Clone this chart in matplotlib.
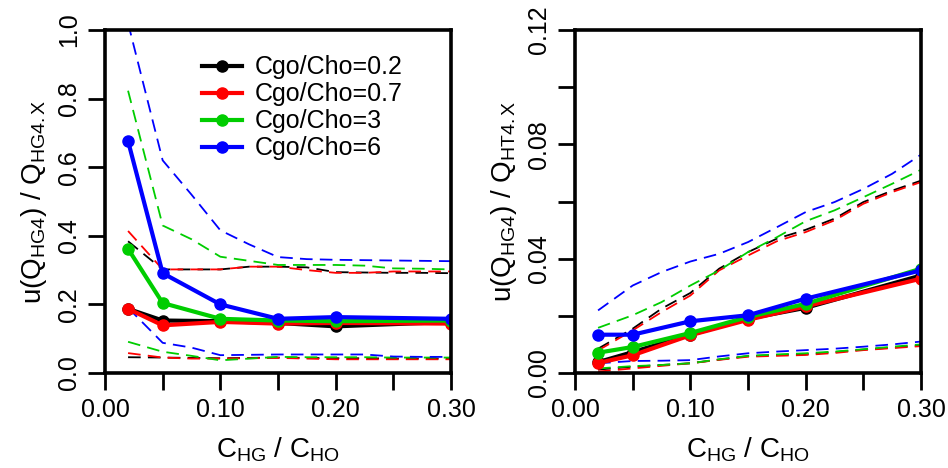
import matplotlib
matplotlib.use("Agg")
import matplotlib.pyplot as plt
from matplotlib.ticker import MultipleLocator, FormatStrFormatter

plt.rcParams['font.family'] = ['Liberation Sans', 'DejaVu Sans']
plt.rcParams['mathtext.fontset'] = 'custom'
plt.rcParams['mathtext.rm'] = 'Liberation Sans'
plt.rcParams['mathtext.it'] = 'Liberation Sans'

# x values (C_HG / C_HO)
ratio = [0.02, 0.05, 0.10, 0.15, 0.20, 0.30]
band_x = [0.02, 0.05, 0.075, 0.10, 0.125, 0.15, 0.175, 0.20, 0.225, 0.25, 0.275, 0.30]

labels = ["Cgo/Cho=0.2", "Cgo/Cho=0.7", "Cgo/Cho=3", "Cgo/Cho=6"]
colors = ["black", "red", "#00CD00", "blue"]

# left panel: u(Q_HG4)/Q_HG4.X
hg_mid_02 = [0.187, 0.153, 0.151, 0.146, 0.136, 0.149]
hg_mid_07 = [0.187, 0.139, 0.149, 0.144, 0.146, 0.144]
hg_mid_3 = [0.362, 0.204, 0.158, 0.153, 0.151, 0.153]
hg_mid_6 = [0.676, 0.291, 0.200, 0.158, 0.163, 0.158]

hg_hi_02 = [0.384, 0.302, 0.302, 0.302, 0.310, 0.310, 0.308, 0.294, 0.293, 0.292, 0.292, 0.291]
hg_hi_07 = [0.414, 0.302, 0.302, 0.302, 0.310, 0.310, 0.300, 0.292, 0.292, 0.296, 0.296, 0.296]
hg_hi_3 = [0.823, 0.430, 0.390, 0.339, 0.327, 0.315, 0.315, 0.315, 0.313, 0.305, 0.304, 0.302]
hg_hi_6 = [1.020, 0.620, 0.520, 0.416, 0.375, 0.338, 0.332, 0.330, 0.329, 0.328, 0.327, 0.326]

hg_lo_02 = [0.046, 0.045, 0.044, 0.043, 0.044, 0.045, 0.044, 0.043, 0.043, 0.042, 0.042, 0.042]
hg_lo_07 = [0.058, 0.045, 0.042, 0.042, 0.043, 0.044, 0.042, 0.040, 0.040, 0.040, 0.040, 0.040]
hg_lo_3 = [0.091, 0.062, 0.050, 0.037, 0.042, 0.047, 0.046, 0.046, 0.046, 0.045, 0.045, 0.045]
hg_lo_6 = [0.190, 0.088, 0.074, 0.052, 0.053, 0.054, 0.054, 0.054, 0.054, 0.048, 0.047, 0.047]

# right panel: u(Q_HG4)/Q_HT4.X
ht_mid_02 = [0.0038, 0.0073, 0.0134, 0.0190, 0.0228, 0.0341]
ht_mid_07 = [0.0035, 0.0062, 0.0132, 0.0186, 0.0233, 0.0330]
ht_mid_3 = [0.0071, 0.0091, 0.0140, 0.0196, 0.0242, 0.0365]
ht_mid_6 = [0.0134, 0.0134, 0.0181, 0.0202, 0.0260, 0.0359]

ht_hi_02 = [0.0085, 0.0155, 0.0225, 0.0280, 0.0365, 0.0423, 0.0470, 0.0501, 0.0540, 0.0598, 0.0638, 0.0673]
ht_hi_07 = [0.0079, 0.0149, 0.0213, 0.0271, 0.0359, 0.0411, 0.0461, 0.0493, 0.0534, 0.0592, 0.0633, 0.0668]
ht_hi_3 = [0.0158, 0.0202, 0.0248, 0.0306, 0.0359, 0.0423, 0.0475, 0.0531, 0.0569, 0.0615, 0.0662, 0.0711]
ht_hi_6 = [0.0219, 0.0306, 0.0353, 0.0390, 0.0417, 0.0458, 0.0510, 0.0563, 0.0598, 0.0644, 0.0697, 0.0764]

ht_lo_02 = [0.0012, 0.0022, 0.0028, 0.0034, 0.0047, 0.0059, 0.0063, 0.0066, 0.0073, 0.0082, 0.0089, 0.0096]
ht_lo_07 = [0.0005, 0.0016, 0.0025, 0.0034, 0.0046, 0.0057, 0.0060, 0.0063, 0.0070, 0.0080, 0.0087, 0.0094]
ht_lo_3 = [0.0016, 0.0024, 0.0028, 0.0034, 0.0048, 0.0060, 0.0065, 0.0069, 0.0075, 0.0083, 0.0092, 0.0100]
ht_lo_6 = [0.0034, 0.0042, 0.0043, 0.0045, 0.0058, 0.0069, 0.0075, 0.0080, 0.0085, 0.0092, 0.0100, 0.0110]

FS = 18
fig = plt.figure(figsize=(9.48, 4.68), dpi=100)
ax1 = fig.add_axes([105 / 948, 95 / 468, 346 / 948, 343 / 468])
ax2 = fig.add_axes([575 / 948, 95 / 468, 346 / 948, 343 / 468])


def draw(ax, mids, his, los, ymax, ystep, ylab):
    for col, hi, lo in zip(colors, his, los):
        ax.plot(band_x, hi, color=col, lw=1.3, dashes=(7, 4))
        ax.plot(band_x, lo, color=col, lw=1.3, dashes=(7, 4))
    for col, mid, lab in zip(colors, mids, labels):
        ax.plot(ratio, mid, color=col, lw=3, marker="o", ms=8, label=lab)
    ax.set_xlim(0, 0.30)
    ax.set_ylim(0, ymax)
    ax.xaxis.set_major_locator(MultipleLocator(0.10))
    ax.xaxis.set_minor_locator(MultipleLocator(0.05))
    ax.xaxis.set_major_formatter(FormatStrFormatter("%.2f"))
    ax.yaxis.set_major_locator(MultipleLocator(ystep))
    if ymax < 1:
        ax.yaxis.set_minor_locator(MultipleLocator(ystep / 2))
        ax.yaxis.set_major_formatter(FormatStrFormatter("%.2f"))
    else:
        ax.yaxis.set_major_formatter(FormatStrFormatter("%.1f"))
    ax.tick_params(which="both", direction="out", length=12, width=2, labelsize=FS)
    ax.tick_params(axis="x", which="major", pad=6)
    ax.tick_params(axis="y", which="major", pad=5)
    for t in ax.get_yticklabels():
        t.set_rotation(90)
        t.set_va("center")
    for s in ax.spines.values():
        s.set_linewidth(2.6)
    ax.set_xlabel(r"$\mathregular{C_{HG}\ /\ C_{HO}}$", fontsize=FS + 2, labelpad=10)
    ax.set_ylabel(ylab, fontsize=FS + 2, labelpad=6)


draw(ax1, [hg_mid_02, hg_mid_07, hg_mid_3, hg_mid_6],
     [hg_hi_02, hg_hi_07, hg_hi_3, hg_hi_6],
     [hg_lo_02, hg_lo_07, hg_lo_3, hg_lo_6],
     1.0, 0.2, r"$\mathregular{u(Q_{HG4})\ /\ Q_{HG4.X}}$")
draw(ax2, [ht_mid_02, ht_mid_07, ht_mid_3, ht_mid_6],
     [ht_hi_02, ht_hi_07, ht_hi_3, ht_hi_6],
     [ht_lo_02, ht_lo_07, ht_lo_3, ht_lo_6],
     0.12, 0.04, r"$\mathregular{u(Q_{HG4})\ /\ Q_{HT4.X}}$")

ax1.legend(loc="upper left", bbox_to_anchor=(0.25, 0.955), frameon=False,
           fontsize=FS, handlelength=1.6, handletextpad=0.55,
           labelspacing=0.12, borderaxespad=0, numpoints=1)

fig.savefig("out.png", dpi=100)
